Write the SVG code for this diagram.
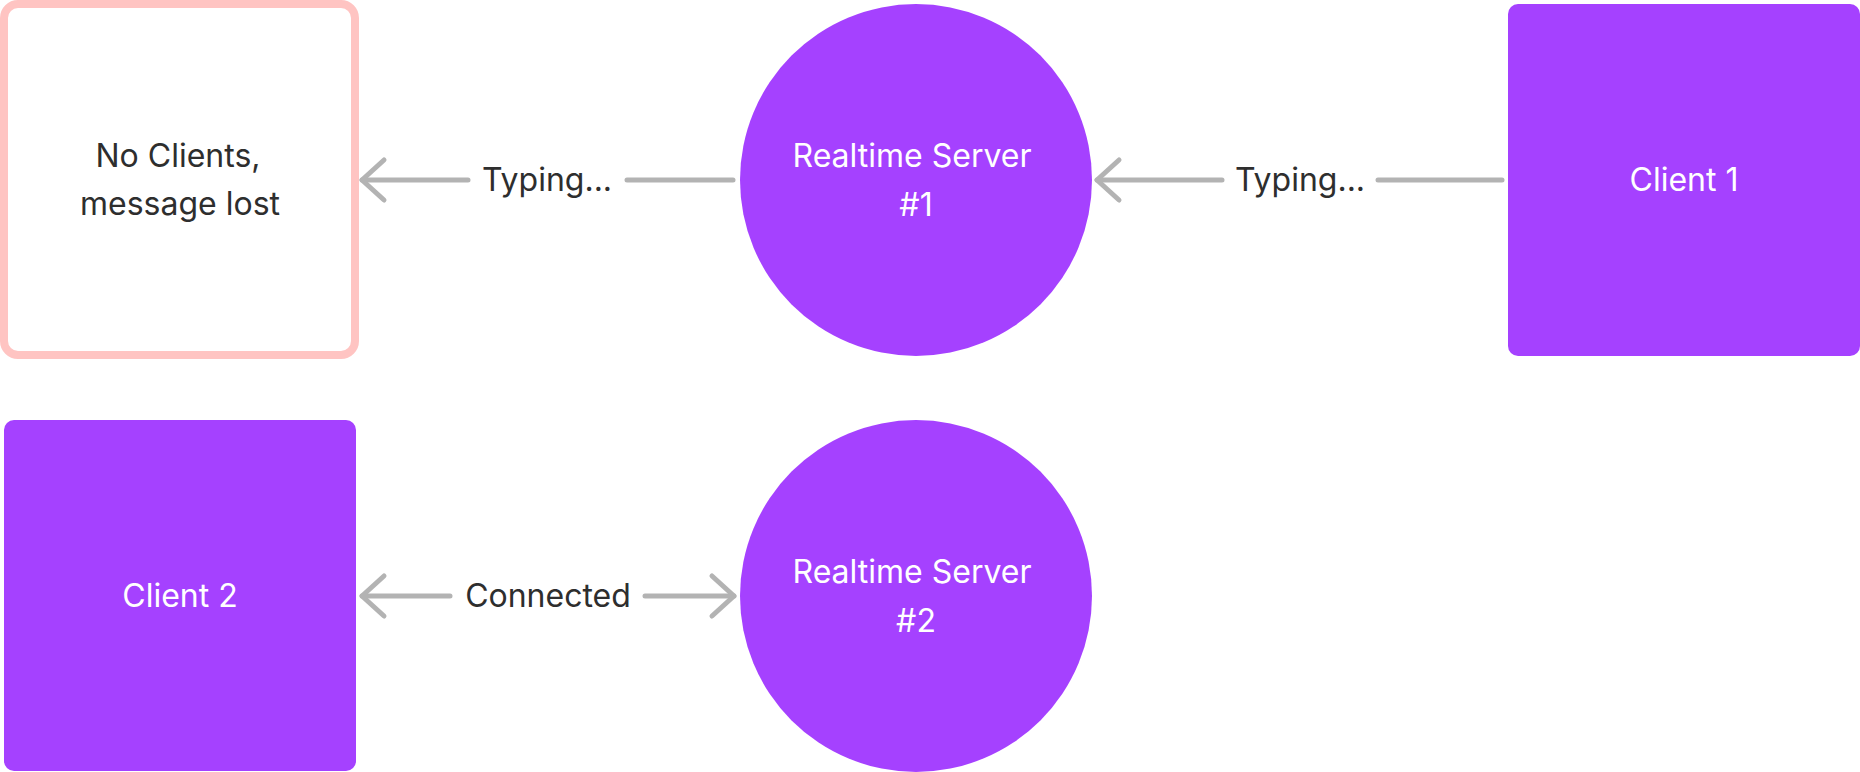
<svg xmlns="http://www.w3.org/2000/svg" width="1860" height="772" viewBox="0 0 1860 772">
<style>
  .purple { fill: #a541ff; }
  .lost { fill: #ffffff; stroke: #ffc4c2; stroke-width: 8; }
  .ntext { font-family: Inter, "Noto Sans", "Liberation Sans", sans-serif; font-size: 32px; fill: #ffffff; text-anchor: middle; }
  .dtext { font-family: Inter, "Noto Sans", "Liberation Sans", sans-serif; font-size: 32px; fill: #2e2e2e; text-anchor: middle; }
  .edge { fill: none; stroke: #b3b3b3; stroke-width: 5; stroke-linecap: round; }
</style>
<defs>
  <marker id="arr" markerUnits="userSpaceOnUse" orient="auto" markerWidth="40" markerHeight="50" viewBox="-30 -25 40 50" refX="0" refY="0" overflow="visible">
    <path d="M-22,-20 L0,0 L-22,20" fill="none" stroke="#b3b3b3" stroke-width="5" stroke-linecap="round" stroke-linejoin="round"/>
  </marker>
</defs>
<rect width="1860" height="772" fill="#ffffff"/>

<g id="no-clients">
  <rect class="lost" x="4" y="4" width="351" height="351" rx="14"/>
  <text class="dtext" x="178" y="167">No Clients,</text>
  <text class="dtext" x="180" y="215">message lost</text>
</g>

<g id="server1">
  <circle class="purple" cx="916" cy="180" r="176"/>
  <text class="ntext" x="912" y="167">Realtime Server</text>
  <text class="ntext" x="916" y="216">#1</text>
</g>

<g id="client1">
  <rect class="purple" x="1508" y="4" width="352" height="352" rx="10"/>
  <text class="ntext" x="1684" y="191">Client 1</text>
</g>

<g id="client2">
  <rect class="purple" x="4" y="420" width="352" height="351" rx="10"/>
  <text class="ntext" x="180" y="607">Client 2</text>
</g>

<g id="server2">
  <circle class="purple" cx="916" cy="596" r="176"/>
  <text class="ntext" x="912" y="583">Realtime Server</text>
  <text class="ntext" x="916" y="632">#2</text>
</g>

<g id="connectors">
  <path class="edge" d="M733,180 L627,180"/>
  <path class="edge" d="M468,180 L362,180" marker-end="url(#arr)"/>
  <text class="dtext" x="547" y="191">Typing...</text>

  <path class="edge" d="M1502,180 L1378,180"/>
  <path class="edge" d="M1222,180 L1097,180" marker-end="url(#arr)"/>
  <text class="dtext" x="1300" y="191">Typing...</text>

  <path class="edge" d="M450,596 L362,596" marker-end="url(#arr)"/>
  <path class="edge" d="M645,596 L734,596" marker-end="url(#arr)"/>
  <text class="dtext" x="548" y="607">Connected</text>
</g>
</svg>
